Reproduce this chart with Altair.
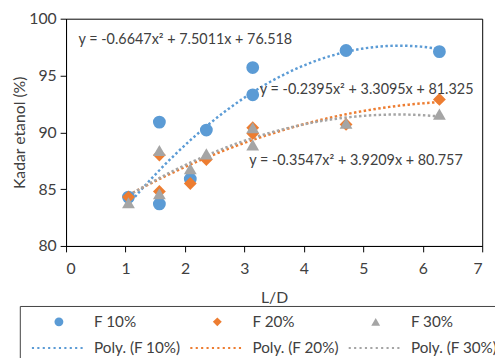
import altair as alt
import pandas as pd

# ---- data ----
ld = [1.05, 1.57, 1.57, 2.09, 2.36, 3.14, 3.14, 4.71, 6.28]
f10 = [84.3, 90.9, 83.7, 85.9, 90.2, 95.7, 93.3, 97.2, 97.1]
f20 = [84.3, 88.0, 84.8, 85.5, 87.6, 90.4, 89.9, 90.7, 92.9]
f30 = [83.8, 88.4, 84.6, 86.8, 88.1, 90.4, 88.9, 90.8, 91.6]
series_names = ["F 10%", "F 20%", "F 30%"]
fit_names = ["Poly. (F 10%)", "Poly. (F 20%)", "Poly. (F 30%)"]
colors = ["#5B9BD5", "#ED7D31", "#A5A5A5"]

eq_text = ["y = -0.6647x² + 7.5011x + 76.518",
           "y = -0.2395x² + 3.3095x + 81.325",
           "y = -0.3547x² + 3.9209x + 80.757"]
eq_x = [0.21, 3.26, 3.08]
eq_y = [98.1, 93.7, 87.5]

FONT = "Lato"
TXT = "#404040"

rows = []
for name, fit, ys in zip(series_names, fit_names, [f10, f20, f30]):
    for x, y in zip(ld, ys):
        rows.append({"ld": x, "val": y, "label": name, "fit": fit})
df = pd.DataFrame(rows)
eq_df = pd.DataFrame({"t": eq_text, "x": eq_x, "y": eq_y})

# dotted-line legend symbol (custom path, unit = r = sqrt(size)/2)
def dotted_path(n=10, start=-6.1, period=1.22, w=0.48, h=0.24):
    parts = []
    for k in range(n):
        x0 = start + k * period
        parts.append(f"M{x0:.2f},{-h:.2f}h{w:.2f}v{2*h:.2f}h{-w:.2f}z")
    return "".join(parts)

DOT = dotted_path()
legend_domain = series_names + fit_names
legend_shapes = ["circle", "diamond", "triangle-up", DOT, DOT, DOT]
legend_colors = colors + colors

xscale = alt.Scale(domain=[0, 7], nice=False)
yscale = alt.Scale(domain=[80, 100], nice=False, zero=False)
xax = alt.Axis(values=list(range(8)), format="d", title="L/D", grid=False,
               labelPadding=9, titlePadding=13)
yax = alt.Axis(values=[80, 85, 90, 95, 100], title="Kadar etanol (%)", grid=False)

legend_props = dict(title=None, columns=3, direction="horizontal", orient="none",
                    legendX=-47, legendY=292,
                    symbolSize=81, labelOffset=28, symbolOffset=24,
                    columnPadding=5, rowPadding=10,
                    padding=8, strokeColor="#404040",
                    labelFontSize=15.5, labelFont=FONT,
                    labelColor=TXT, symbolStrokeWidth=0)

base = alt.Chart(df)

lines = base.transform_regression(
    "ld", "val", method="poly", order=2, groupby=["fit"]
).mark_line(strokeWidth=2.5, strokeDash=[2.5, 2.5]).encode(
    x=alt.X("ld:Q", scale=xscale, axis=xax),
    y=alt.Y("val:Q", scale=yscale, axis=yax),
    stroke=alt.Stroke("fit:N", scale=alt.Scale(domain=fit_names, range=colors), legend=None),
)

points = base.mark_point(filled=True, opacity=1, size=170).encode(
    x=alt.X("ld:Q", scale=xscale, axis=xax),
    y=alt.Y("val:Q", scale=yscale, axis=yax),
    color=alt.Color("label:N", scale=alt.Scale(domain=legend_domain, range=legend_colors),
                    legend=alt.Legend(**legend_props)),
    shape=alt.Shape("label:N", scale=alt.Scale(domain=legend_domain, range=legend_shapes),
                    legend=alt.Legend(**legend_props)),
)

eqs = alt.Chart(eq_df).mark_text(align="left", baseline="middle", font=FONT,
                                 fontSize=14.6, color=TXT).encode(
    x=alt.X("x:Q", scale=xscale),
    y=alt.Y("y:Q", scale=yscale),
    text="t:N",
)

chart = alt.layer(lines, points, eqs).properties(
    width=423, height=231,
    autosize=alt.AutoSizeParams(type="none"),
    padding={"left": 59, "top": 8, "right": 13, "bottom": 111},
).configure_view(stroke="#000000", strokeWidth=1).configure_axis(
    domainColor="#000000", tickColor="#000000", tickSize=6,
    labelFont=FONT, labelFontSize=16, labelColor=TXT,
    titleFont=FONT, titleFontSize=16, titleColor=TXT, titleFontWeight="normal",
    labelPadding=4,
).configure_axisY(titlePadding=1)

chart.save("out.html", embed_options={"renderer": "svg", "actions": False})
